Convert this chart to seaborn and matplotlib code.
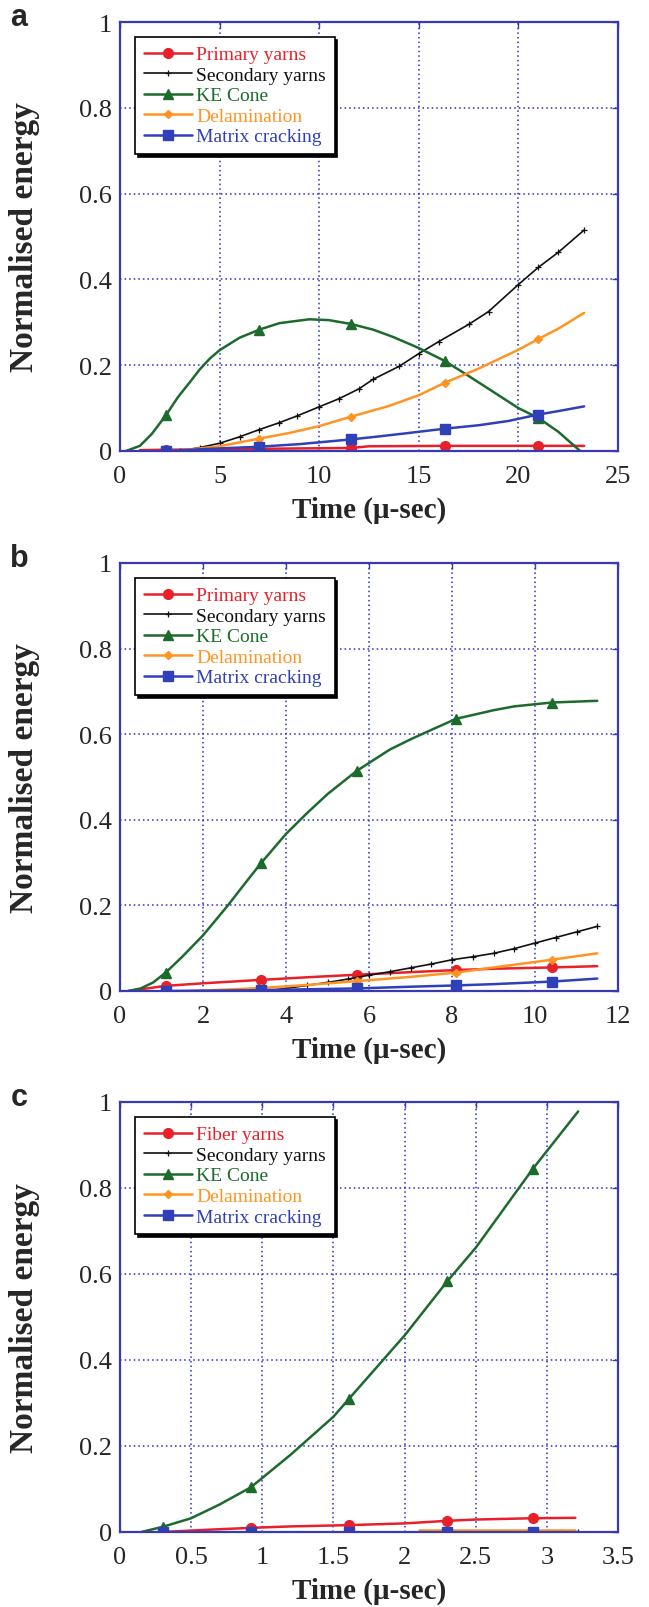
import matplotlib
matplotlib.use("Agg")
import matplotlib.pyplot as plt
import seaborn as sns

# ---- panel a ----
a_primary_t = [1.0, 2.3, 5.0, 7.0, 9.0, 11.6, 12.5, 16.3, 21.0, 23.3]
a_primary_e = [0.002, 0.003, 0.004, 0.005, 0.006, 0.007, 0.011, 0.012, 0.012, 0.012]
a_secondary_t = [3.0, 4.0, 5.0, 6.0, 7.0, 8.0, 8.9, 10.0, 11.0, 12.0, 12.7, 14.0, 15.0, 16.0, 17.5, 18.5, 20.0, 21.0, 22.0, 23.3]
a_secondary_e = [0.0, 0.008, 0.018, 0.033, 0.05, 0.066, 0.082, 0.103, 0.122, 0.145, 0.167, 0.197, 0.227, 0.255, 0.295, 0.325, 0.388, 0.428, 0.463, 0.515]
a_ke_t = [0.3, 1.0, 1.6, 2.3, 2.9, 3.5, 4.0, 4.5, 5.0, 6.0, 7.0, 8.0, 9.5, 10.5, 11.6, 12.7, 13.7, 15.0, 16.3, 17.5, 18.5, 20.0, 21.0, 22.0, 23.1]
a_ke_e = [0.0, 0.012, 0.04, 0.083, 0.125, 0.16, 0.19, 0.215, 0.235, 0.264, 0.283, 0.298, 0.307, 0.305, 0.296, 0.283, 0.266, 0.24, 0.21, 0.175, 0.145, 0.1, 0.077, 0.045, 0.0]
a_delam_t = [2.5, 4.0, 5.0, 7.0, 8.5, 10.0, 11.6, 13.5, 15.0, 16.3, 18.0, 20.0, 21.0, 22.0, 23.3]
a_delam_e = [0.0, 0.006, 0.011, 0.029, 0.042, 0.058, 0.08, 0.105, 0.13, 0.159, 0.192, 0.236, 0.261, 0.285, 0.322]
a_matrix_t = [2.3, 4.0, 5.0, 7.0, 9.0, 11.6, 13.0, 14.5, 16.3, 18.0, 19.5, 21.0, 22.0, 23.3]
a_matrix_e = [0.0, 0.004, 0.006, 0.01, 0.016, 0.027, 0.034, 0.042, 0.052, 0.06, 0.07, 0.085, 0.093, 0.104]
a_marks = [2.3, 7.0, 11.6, 16.3, 21.0]

# ---- panel b ----
b_primary_t = [0.2, 1.1, 2.0, 3.4, 4.5, 5.7, 7.0, 8.1, 9.0, 10.4, 11.5]
b_primary_e = [0.0, 0.012, 0.018, 0.026, 0.032, 0.038, 0.044, 0.049, 0.052, 0.055, 0.058]
b_secondary_t = [3.5, 4.0, 4.5, 5.0, 5.5, 6.0, 6.5, 7.0, 7.5, 8.0, 8.5, 9.0, 9.5, 10.0, 10.5, 11.0, 11.5]
b_secondary_e = [0.0, 0.006, 0.013, 0.02, 0.028, 0.037, 0.045, 0.054, 0.063, 0.073, 0.08, 0.088, 0.099, 0.112, 0.125, 0.138, 0.151]
b_ke_t = [0.2, 0.5, 0.8, 1.1, 1.5, 2.0, 2.6, 3.0, 3.4, 4.0, 4.5, 5.0, 5.7, 6.5, 7.0, 7.5, 8.1, 9.0, 9.5, 10.4, 11.5]
b_ke_e = [0.0, 0.006, 0.02, 0.043, 0.08, 0.13, 0.2, 0.25, 0.299, 0.367, 0.415, 0.46, 0.514, 0.564, 0.588, 0.61, 0.636, 0.656, 0.665, 0.674, 0.678]
b_delam_t = [1.7, 2.5, 3.4, 4.5, 5.7, 7.0, 8.1, 9.0, 10.4, 11.5]
b_delam_e = [0.0, 0.003, 0.007, 0.014, 0.023, 0.033, 0.043, 0.055, 0.073, 0.088]
b_matrix_t = [1.1, 2.5, 3.4, 4.5, 5.7, 7.0, 8.1, 9.0, 10.4, 11.5]
b_matrix_e = [0.0, 0.001, 0.002, 0.004, 0.006, 0.01, 0.013, 0.016, 0.022, 0.029]
b_marks = [1.1, 3.4, 5.7, 8.1, 10.4]

# ---- panel c ----
c_fiber_t = [0.3, 0.6, 0.92, 1.2, 1.61, 2.0, 2.3, 2.5, 2.9, 3.2]
c_fiber_e = [0.0, 0.005, 0.0096, 0.013, 0.016, 0.02, 0.026, 0.029, 0.032, 0.033]
c_secondary_t = [0.0, 3.0, 3.1, 3.22]
c_secondary_e = [0.0, 0.0, 0.0, 0.0]
c_ke_t = [0.15, 0.3, 0.5, 0.7, 0.92, 1.2, 1.5, 1.61, 2.0, 2.3, 2.5, 2.9, 3.22]
c_ke_e = [0.0, 0.012, 0.032, 0.064, 0.104, 0.18, 0.268, 0.31, 0.457, 0.583, 0.661, 0.844, 0.978]
c_delam_t = [2.1, 2.6, 3.2]
c_delam_e = [0.004, 0.004, 0.004]
c_matrix_t = [0.3, 0.92, 1.61, 2.3, 2.9]
c_matrix_e = [0.0, 0.0, 0.0, 0.0, 0.0]
c_marks = [0.3, 0.92, 1.61, 2.3, 2.9]

RED, BLACK, GREEN, ORANGE, BLUE = "#e8202a", "#111111", "#1d6b2c", "#ff9422", "#3040b8"
AXBLUE = "#3a3ab0"

sns.set_style("white")
plt.rcParams["font.family"] = "serif"
plt.rcParams["font.serif"] = ["Liberation Serif", "DejaVu Serif"]
SERIF = ["Liberation Serif", "DejaVu Serif"]


def idx(t, marks):
    return [i for i, v in enumerate(t) if any(abs(v - m) < 1e-6 for m in marks)]


def draw(ax, series, xmax, xstep, letter, marks):
    for label, t, e, col, mk, ms, every in series:
        me = list(range(len(t))) if every == "all" else idx(t, marks)
        thin = col == BLACK
        sns.lineplot(x=t, y=e, ax=ax, color=col, lw=1.2 if thin else 1.8,
                     marker=mk, markersize=ms, markevery=me, markeredgecolor=col,
                     markeredgewidth=0.9 if thin else 1.0, label=label, sort=False,
                     estimator=None)
    ax.set_xlim(0, xmax)
    ax.set_ylim(0, 1)
    xt = [i * xstep for i in range(int(round(xmax / xstep)) + 1)]
    ax.set_xticks(xt)
    ax.set_xticklabels([f"{v:g}" for v in xt], family=SERIF, fontsize=19)
    yt = [0, 0.2, 0.4, 0.6, 0.8, 1]
    ax.set_yticks(yt)
    ax.set_yticklabels([f"{v:g}" for v in yt], family=SERIF, fontsize=19)
    ax.grid(True, color="#2a2acc", linestyle=(0, (1, 2)), linewidth=1.1)
    for s in ax.spines.values():
        s.set_visible(True)
        s.set_color(AXBLUE)
        s.set_linewidth(1.6)
    ax.tick_params(direction="in", length=4, width=1, color=AXBLUE,
                   top=True, right=True)
    ax.tick_params(axis="x", pad=10)
    ax.tick_params(axis="y", pad=6)
    ax.set_xlabel("Time (μ-sec)", fontsize=21, fontweight="bold", family=SERIF)
    ax.xaxis.set_label_coords(0.5, -0.105)
    ax.set_ylabel("Normalised energy", fontsize=24, fontweight="bold", family=SERIF)
    ax.yaxis.set_label_coords(-0.16, 0.5)
    leg = ax.legend(loc="upper left", bbox_to_anchor=(0.03, 0.965), borderaxespad=0,
                    prop={"family": SERIF, "size": 14}, labelcolor="linecolor",
                    fancybox=False, shadow={"color": "black", "alpha": 1.0},
                    framealpha=1, edgecolor="black", handlelength=2.5,
                    handletextpad=0.2, labelspacing=0.15, borderpad=0.45)
    leg.get_frame().set_linewidth(1.2)
    ax.figure.text(0.029, ax.get_position().y1 + 0.003, letter, fontsize=22,
                   fontweight="bold", family=["Liberation Sans", "DejaVu Sans"],
                   ha="center", va="center")


fig = plt.figure(figsize=(6.49, 16.08), dpi=100)
left, width = 120 / 649, 498 / 649
ax_a = fig.add_axes([left, 1 - 452 / 1608, width, 429 / 1608])
ax_b = fig.add_axes([left, 1 - 992 / 1608, width, 428 / 1608])
ax_c = fig.add_axes([left, 1 - 1533 / 1608, width, 430 / 1608])

draw(ax_a, [
    ("Primary yarns", a_primary_t, a_primary_e, RED, "o", 7, "m"),
    ("Secondary yarns", a_secondary_t, a_secondary_e, BLACK, "+", 5, "all"),
    ("KE Cone", a_ke_t, a_ke_e, GREEN, "^", 7, "m"),
    ("Delamination", a_delam_t, a_delam_e, ORANGE, "D", 4, "m"),
    ("Matrix cracking", a_matrix_t, a_matrix_e, BLUE, "s", 7, "m"),
], 25, 5, "a", a_marks)

draw(ax_b, [
    ("Primary yarns", b_primary_t, b_primary_e, RED, "o", 7, "m"),
    ("Secondary yarns", b_secondary_t, b_secondary_e, BLACK, "+", 5, "all"),
    ("KE Cone", b_ke_t, b_ke_e, GREEN, "^", 7, "m"),
    ("Delamination", b_delam_t, b_delam_e, ORANGE, "D", 4, "m"),
    ("Matrix cracking", b_matrix_t, b_matrix_e, BLUE, "s", 7, "m"),
], 12, 2, "b", b_marks)

draw(ax_c, [
    ("Fiber yarns", c_fiber_t, c_fiber_e, RED, "o", 7, "m"),
    ("Secondary yarns", c_secondary_t, c_secondary_e, BLACK, "+", 5, "all"),
    ("KE Cone", c_ke_t, c_ke_e, GREEN, "^", 7, "m"),
    ("Delamination", c_delam_t, c_delam_e, ORANGE, "D", 4, "m"),
    ("Matrix cracking", c_matrix_t, c_matrix_e, BLUE, "s", 7, "m"),
], 3.5, 0.5, "c", c_marks)

fig.savefig("out.png", dpi=100, facecolor="white")
